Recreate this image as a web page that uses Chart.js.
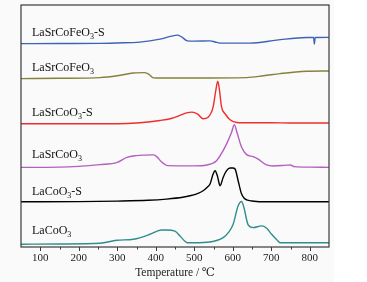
<!DOCTYPE html>
<html>
<head>
<meta charset="utf-8">
<script src="https://cdn.jsdelivr.net/npm/chart.js@4.4.0/dist/chart.umd.min.js"></script>
<style>
  html, body { margin: 0; padding: 0; background: #fff; }
  #wrap { width: 367px; height: 282px; }
</style>
</head>
<body>
<div id="wrap"><canvas id="tpr" width="367" height="282"></canvas></div>
<script>
// curve names, top to bottom
const seriesNames = ['LaSrCoFeO3-S', 'LaSrCoFeO3', 'LaSrCoO3-S', 'LaSrCoO3', 'LaCoO3-S', 'LaCoO3'];
const seriesColors = ['#3d63b6', '#83823d', '#ef2d2d', '#b55fc0', '#000000', '#2f8d8b'];

// temperature (°C) and stacked signal (a.u.)
const lsfoST = [50, 150, 255, 300, 359, 411, 441, 456, 467, 482, 500, 541, 554, 567, 645, 714, 792, 810, 812, 814, 850];
const lsfoSV = [202.5, 202.7, 202.8, 203.2, 204, 207, 210, 211, 209.3, 205.3, 205, 205.3, 204.2, 203, 203, 206, 208.7, 208.7, 202, 208.7, 208.8];

const lsfoT = [50, 150, 255, 300, 342, 372, 382, 392, 400, 500, 636, 680, 723, 792, 850];
const lsfoV = [167.7, 168, 168.7, 170.5, 173.3, 173.7, 172, 168.7, 168.3, 168.3, 168.7, 170.5, 172.7, 175, 175.3];

const lscoST = [50, 200, 300, 350, 411, 440, 463, 480, 494, 510, 523, 536, 549, 556, 561, 565, 571, 580, 593, 610, 650, 700, 750, 850];
const lscoSV = [122.7, 122.7, 122.8, 123.5, 126, 128, 131, 133.5, 134.3, 132, 127.7, 129.3, 139.3, 156, 165, 157.7, 139.3, 132.7, 126.7, 124, 123.7, 123.7, 123.5, 123.5];

const lscoT = [50, 150, 255, 300, 325, 350, 370, 394, 404, 412, 420, 430, 500, 532, 558, 575, 584, 597, 604, 612, 623, 636, 653, 666, 688, 705, 740, 750, 760, 800, 850];
const lscoV = [79.3, 79.5, 82, 84.3, 89.3, 91, 91.5, 91.7, 89.5, 86, 83.3, 81, 80.8, 81.7, 86, 96, 102.7, 114.3, 121.7, 112.7, 99.3, 92, 90, 87.5, 81.7, 80.7, 81.5, 81.7, 80, 79.5, 79.3];

const lcoST = [50, 200, 300, 380, 428, 470, 489, 510, 523, 535, 541, 549, 554, 560, 567, 575, 584, 593, 600, 606, 614, 623, 630, 636, 650, 662, 700, 850];
const lcoSV = [45, 45.2, 45.7, 46.5, 47.7, 49.5, 51, 53.5, 56, 60, 62.7, 72.7, 76, 71, 61, 69.3, 76, 78.7, 78.7, 77.7, 66, 52.7, 48.5, 47, 45.8, 45.3, 45, 45];

const lcoT = [50, 150, 255, 299, 342, 385, 405, 415, 428, 450, 463, 475, 482, 500, 541, 575, 590, 601, 614, 623, 629, 640, 653, 675, 688, 701, 715, 723, 760, 850];
const lcoV = [2.8, 3, 3.7, 6.7, 7.7, 12.7, 16, 17, 17, 15.7, 11, 6, 4.3, 4.3, 5, 9.3, 15, 22.7, 41, 45.3, 39.3, 22, 19.3, 21, 18.7, 12.7, 7, 4.3, 4.2, 4.2];

const xTicks = [100, 200, 300, 400, 500, 600, 700, 800];
const xMinorTicks = [150, 250, 350, 450, 550, 650, 750];

const allT = [lsfoST, lsfoT, lscoST, lscoT, lcoST, lcoT];
const allV = [lsfoSV, lsfoV, lscoSV, lscoV, lcoSV, lcoV];

// label baselines, in the same stacked units
const labelBase = [210.5, 175.5, 130.5, 88.3, 52, 13];

const serif = "'Liberation Serif', 'DejaVu Serif', serif";

const datasets = seriesNames.map((name, i) => ({
  label: name,
  data: allT[i].map((t, j) => ({ x: t, y: allV[i][j] })),
  borderColor: seriesColors[i],
  borderWidth: 1.4,
  pointRadius: 0,
  fill: false,
  cubicInterpolationMode: 'monotone'
}));

const framePlugin = {
  id: 'frame',
  beforeDraw(chart) {
    const c = chart.ctx;
    c.save();
    c.fillStyle = '#ffffff';
    c.fillRect(0, 0, chart.width, chart.height);
    c.fillStyle = '#fafafa';
    c.fillRect(0, 0, 334, chart.height);
    c.restore();
  },
  afterDraw(chart) {
    const c = chart.ctx;
    const a = chart.chartArea;
    const xs = chart.scales.x, ys = chart.scales.y;
    c.save();
    c.strokeStyle = '#3a3a3a';
    c.lineWidth = 1.2;
    c.strokeRect(a.left, a.top, a.right - a.left, a.bottom - a.top);
    c.beginPath();
    xTicks.forEach(v => {
      const px = Math.round(xs.getPixelForValue(v)) + 0.5;
      c.moveTo(px, a.bottom); c.lineTo(px, a.bottom + 4);
    });
    xMinorTicks.forEach(v => {
      const px = Math.round(xs.getPixelForValue(v)) + 0.5;
      c.moveTo(px, a.bottom); c.lineTo(px, a.bottom + 2.5);
    });
    c.lineWidth = 1;
    c.stroke();

    // curve labels with subscript 3
    c.fillStyle = '#111';
    c.textBaseline = 'alphabetic';
    seriesNames.forEach((name, i) => {
      const k = name.indexOf('3');
      const head = name.slice(0, k), tail = name.slice(k + 1);
      let x = a.left + 11;
      const y = ys.getPixelForValue(labelBase[i]);
      c.font = '12px ' + serif;
      c.fillText(head, x, y);
      x += c.measureText(head).width;
      c.font = '8px ' + serif;
      c.fillText('3', x, y + 3);
      x += c.measureText('3').width;
      c.font = '12px ' + serif;
      c.fillText(tail, x, y);
    });
    c.restore();
  }
};

new Chart(document.getElementById('tpr'), {
  type: 'line',
  data: { datasets },
  options: {
    responsive: false,
    animation: false,
    layout: { padding: { left: 21, right: 38, top: 5, bottom: 2.5 } },
    plugins: { legend: { display: false }, tooltip: { enabled: false } },
    scales: {
      x: {
        type: 'linear',
        min: 50,
        max: 850,
        afterBuildTicks: (scale) => { scale.ticks = xTicks.map(v => ({ value: v })); },
        grid: { display: false, drawTicks: false },
        border: { display: false },
        ticks: { padding: 5, color: '#222', font: { family: serif, size: 11 }, maxRotation: 0, autoSkip: false },
        title: { display: true, text: 'Temperature / ℃', color: '#222', font: { family: serif, size: 11.5 }, padding: { top: -4.5, bottom: 0 } }
      },
      y: { type: 'linear', min: 0, max: 241, display: false }
    }
  },
  plugins: [framePlugin]
});
</script>
</body>
</html>
